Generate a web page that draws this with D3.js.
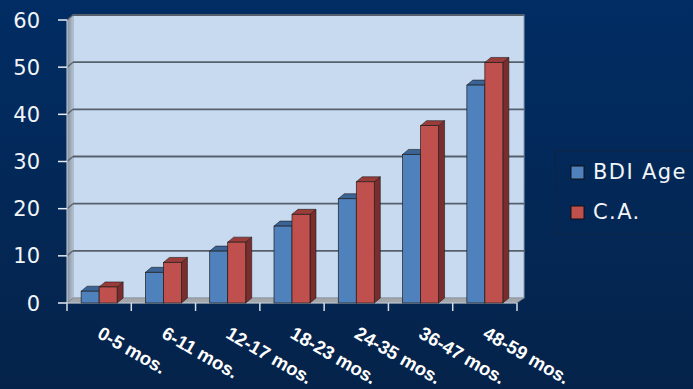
<!DOCTYPE html>
<html>
<head>
<meta charset="utf-8">
<script src="https://cdn.jsdelivr.net/npm/d3@7"></script>
<style>
  body { margin: 0; background: #032a5a; }
  svg { display: block; }
</style>
</head>
<body>
<script>
// data
const categories = ['0-5 mos.', '6-11 mos.', '12-17 mos.', '18-23 mos.', '24-35 mos.', '36-47 mos.', '48-59 mos.']
const seriesNames = ['BDI Age', 'C.A.']
const bdiAge = [2.5, 6.5, 11, 16.3, 22.1, 31.5, 46.2]
const chronAge = [3.4, 8.6, 12.9, 18.8, 25.7, 37.6, 51]
const yTicks = [0, 10, 20, 30, 40, 50, 60]

const W = 693, H = 389
const dx = 6, dy = -5   // 3d depth offset
const plot = {left: 67, right: 517, top: 20, bottom: 303}

const colors = {
    'BDI Age': {front: '#4f81bd', top: '#3b6496', side: '#2e4f78'},
    'C.A.': {front: '#c0504d', top: '#9a3c3a', side: '#7a2d2c'}
}

const svg = d3.select('body').append('svg')
    .attr('width', W)
    .attr('height', H)

const defs = svg.append('defs')
const bg = defs.append('linearGradient').attr('id', 'bg')
    .attr('x1', 0).attr('y1', 0).attr('x2', 0).attr('y2', 1)
bg.append('stop').attr('offset', '0%').attr('stop-color', '#012d64')
bg.append('stop').attr('offset', '100%').attr('stop-color', '#05234a')

const wallGrad = defs.append('linearGradient').attr('id', 'wall')
    .attr('x1', 0).attr('y1', 0).attr('x2', 1).attr('y2', 0)
wallGrad.append('stop').attr('offset', '0%').attr('stop-color', '#7f8c9c')
wallGrad.append('stop').attr('offset', '100%').attr('stop-color', '#b4bfcc')

svg.append('rect')
    .attr('width', W).attr('height', H)
    .attr('fill', 'url(#bg)')

// scales
const yScale = d3.scaleLinear().domain([0, 60]).range([plot.bottom, plot.top])
const x0 = d3.scaleBand().domain(categories).range([plot.left, plot.right])
const x1 = d3.scaleBand().domain(seriesNames)
    .range([x0.bandwidth() * 0.22, x0.bandwidth() * 0.78])

// back wall
svg.append('rect')
    .attr('x', plot.left + dx).attr('y', plot.top + dy)
    .attr('width', plot.right - plot.left + 1).attr('height', plot.bottom - plot.top)
    .attr('fill', '#c8daf0')
    .attr('stroke', '#8d9db0')
    .attr('stroke-width', 1)

// side wall
svg.append('polygon')
    .attr('points', [[plot.left, plot.top], [plot.left + dx, plot.top + dy], [plot.left + dx, plot.bottom + dy], [plot.left, plot.bottom]].join(' '))
    .attr('fill', 'url(#wall)')

// floor
svg.append('polygon')
    .attr('points', [[plot.left, plot.bottom], [plot.left + dx, plot.bottom + dy], [plot.right + dx + 1, plot.bottom + dy], [plot.right, plot.bottom]].join(' '))
    .attr('fill', '#a3a6aa')
    .attr('stroke', '#7d8186')
    .attr('stroke-width', 0.5)

// gridlines
const grid = svg.append('g')
yTicks.filter(t => t > 0).forEach(t => {
    grid.append('line')
        .attr('x1', plot.left + dx).attr('x2', plot.right + dx + 1)
        .attr('y1', yScale(t) + dy).attr('y2', yScale(t) + dy)
        .attr('stroke', '#56606c').attr('stroke-width', 1.8)
    grid.append('line')
        .attr('x1', plot.left).attr('x2', plot.left + dx)
        .attr('y1', yScale(t)).attr('y2', yScale(t) + dy)
        .attr('stroke', '#56606c').attr('stroke-width', 1.2)
})

// y axis
svg.append('line')
    .attr('x1', plot.left).attr('x2', plot.left)
    .attr('y1', plot.top).attr('y2', plot.bottom)
    .attr('stroke', '#c9d2dc').attr('stroke-width', 1)

const yAxis = svg.append('g').selectAll('.ytick').data(yTicks).enter().append('g')
yAxis.append('line')
    .attr('x1', plot.left - 9).attr('x2', plot.left)
    .attr('y1', d => yScale(d)).attr('y2', d => yScale(d))
    .attr('stroke', '#e6ecf2').attr('stroke-width', 1.5)
yAxis.append('text')
    .attr('x', 40)
    .attr('y', d => yScale(d))
    .attr('dy', '0.36em')
    .attr('text-anchor', 'end')
    .attr('fill', '#f2f5f8')
    .style('font-family', 'DejaVu Sans, sans-serif')
    .style('font-size', '21px')
    .text(d => d)

// x axis ticks at category boundaries
svg.append('line')
    .attr('x1', plot.left).attr('x2', plot.right)
    .attr('y1', plot.bottom).attr('y2', plot.bottom)
    .attr('stroke', '#c9d2dc').attr('stroke-width', 1)
svg.append('g').selectAll('line')
    .data(categories.map(c => x0(c)).concat([plot.right]))
    .enter().append('line')
        .attr('x1', d => d).attr('x2', d => d)
        .attr('y1', plot.bottom).attr('y2', plot.bottom + 8)
        .attr('stroke', '#d6dde5').attr('stroke-width', 1.5)

// bars
const barData = []
categories.forEach((c, i) => {
    barData.push({cat: c, name: 'BDI Age', value: bdiAge[i]})
    barData.push({cat: c, name: 'C.A.', value: chronAge[i]})
})

const bars = svg.append('g').selectAll('.bar').data(barData).enter().append('g')
bars.each(function(d) {
    const g = d3.select(this)
    const x = x0(d.cat) + x1(d.name)
    const w = x1.bandwidth()
    const yt = yScale(d.value)
    const c = colors[d.name]
    g.append('polygon')
        .attr('points', [[x + w, yt], [x + w + dx, yt + dy], [x + w + dx, plot.bottom + dy], [x + w, plot.bottom]].join(' '))
        .attr('fill', c.side).attr('stroke', '#1d1d1d').attr('stroke-width', 0.6)
    g.append('polygon')
        .attr('points', [[x, yt], [x + dx, yt + dy], [x + w + dx, yt + dy], [x + w, yt]].join(' '))
        .attr('fill', c.top).attr('stroke', '#1d1d1d').attr('stroke-width', 0.6)
    g.append('rect')
        .attr('x', x).attr('y', yt)
        .attr('width', w).attr('height', plot.bottom - yt)
        .attr('fill', c.front).attr('stroke', '#1d1d1d').attr('stroke-width', 0.7)
})

// category labels
svg.append('g').selectAll('text').data(categories).enter().append('text')
    .attr('transform', d => 'translate(' + (x0(d) + x0.bandwidth() / 2 - 3) + ',' + (plot.bottom + 34) + ')rotate(30)')
    .attr('fill', 'white')
    .style('font-family', 'Liberation Sans, Arial, sans-serif')
    .style('font-weight', 'bold')
    .style('font-size', '18.5px')
    .text(d => d)

// legend
const legend = svg.append('g')
legend.append('rect')
    .attr('x', 555).attr('y', 151)
    .attr('width', 150).attr('height', 83)
    .attr('fill', 'none')
    .attr('stroke', '#0f2442').attr('stroke-width', 1)

const legendRows = legend.selectAll('.row').data(seriesNames).enter().append('g')
    .attr('transform', (d, i) => 'translate(571,' + (166 + i * 40) + ')')
legendRows.append('rect')
    .attr('width', 13).attr('height', 13)
    .attr('fill', d => colors[d].front)
    .attr('stroke', '#111').attr('stroke-width', 1)
legendRows.append('text')
    .attr('x', 22).attr('y', 13)
    .attr('fill', '#f2f5f8')
    .style('font-family', 'DejaVu Sans, sans-serif')
    .style('font-size', '21px')
    .style('letter-spacing', '1.4px')
    .text(d => d)
</script>
</body>
</html>
